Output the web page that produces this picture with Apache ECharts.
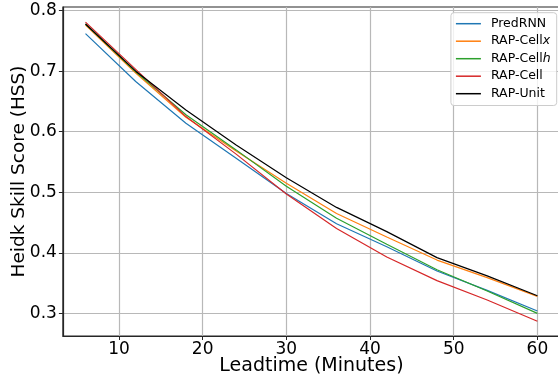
<!DOCTYPE html>
<html>
<head>
<meta charset="utf-8">
<script src="https://cdn.jsdelivr.net/npm/echarts@6/dist/echarts.min.js"></script>
<style>
html,body{margin:0;padding:0;background:#fff;}
#c{width:558px;height:384px;}
</style>
</head>
<body>
<div id="c"></div>
<script>
const leadtimes = [6, 12, 18, 24, 30, 36, 42, 48, 54, 60];
const predRNN  = [0.762, 0.683, 0.614, 0.556, 0.498, 0.448, 0.410, 0.370, 0.338, 0.304];
const rapCellX = [0.776, 0.697, 0.624, 0.568, 0.515, 0.465, 0.426, 0.388, 0.359, 0.328];
const rapCellH = [0.778, 0.699, 0.628, 0.570, 0.510, 0.457, 0.414, 0.372, 0.337, 0.300];
const rapCell  = [0.781, 0.703, 0.625, 0.563, 0.497, 0.440, 0.393, 0.354, 0.322, 0.287];
const rapUnit  = [0.778, 0.700, 0.636, 0.578, 0.524, 0.475, 0.435, 0.392, 0.362, 0.329];
const xTicks = [10, 20, 30, 40, 50, 60];
const yTicks = [0.3, 0.4, 0.5, 0.6, 0.7, 0.8];

const seriesDefs = [
  {name: 'PredRNN', data: predRNN, color: '#1f77b4'},
  {name: 'RAP-CellX', data: rapCellX, color: '#ff7f0e'},
  {name: 'RAP-CellH', data: rapCellH, color: '#2ca02c'},
  {name: 'RAP-Cell', data: rapCell, color: '#d62728'},
  {name: 'RAP-Unit', data: rapUnit, color: '#000000'}
];
const legendLabels = {
  'PredRNN': '{a|PredRNN}',
  'RAP-CellX': '{a|RAP-Cell}{i|x}',
  'RAP-CellH': '{a|RAP-Cell}{i|h}',
  'RAP-Cell': '{a|RAP-Cell}',
  'RAP-Unit': '{a|RAP-Unit}'
};
const FONT = 'DejaVu Sans';
const chart = echarts.init(document.getElementById('c'), null, {renderer: 'canvas'});
chart.setOption({
  animation: false,
  backgroundColor: '#fff',
  textStyle: {fontFamily: FONT},
  grid: {left: 62.9, right: -2, top: 7, bottom: 48, show: true, borderColor: '#262626', borderWidth: 1.2, containLabel: false, outerBoundsMode: 'none'},
  legend: {
    orient: 'vertical', right: 1.3, top: 12.7,
    icon: 'rect', itemWidth: 25, itemHeight: 1.5, itemGap: 4.5,
    padding: [4.5, 6, 5.3, 5],
    backgroundColor: 'rgba(255,255,255,0.8)', borderColor: '#cccccc', borderWidth: 1, borderRadius: 3,
    formatter: n => legendLabels[n],
    textStyle: {
      fontFamily: FONT, fontSize: 12.5, color: '#000', lineHeight: 12.75, padding: [0, 0, 0, 5],
      rich: {
        a: {fontFamily: FONT, fontSize: 12.5, color: '#000', lineHeight: 12.75},
        i: {fontFamily: FONT, fontSize: 12.5, color: '#000', fontStyle: 'italic', lineHeight: 12.75}
      }
    }
  },
  xAxis: {
    type: 'value', min: 3.3, max: 62.7, splitNumber: 6,
    name: 'Leadtime (Minutes)', nameLocation: 'middle', nameGap: 21, nameMoveOverlap: false,
    nameTextStyle: {fontFamily: FONT, fontSize: 19, color: '#000'},
    axisLine: {show: true, lineStyle: {color: '#262626', width: 1.2}},
    axisTick: {show: true, length: 4, customValues: xTicks, lineStyle: {color: '#262626', width: 1}},
    axisLabel: {customValues: xTicks, margin: 5, fontFamily: FONT, fontSize: 17, color: '#000'},
    splitLine: {show: true, lineStyle: {color: '#b8b8b8', width: 1.2}}
  },
  yAxis: {
    type: 'value', min: 0.2626, max: 0.806, splitNumber: 5,
    name: 'Heidk Skill Score (HSS)', nameLocation: 'middle', nameGap: 34, nameMoveOverlap: false,
    nameTextStyle: {fontFamily: FONT, fontSize: 18.5, color: '#000'},
    axisLine: {show: true, lineStyle: {color: '#262626', width: 1.2}},
    axisTick: {show: true, length: 4, customValues: yTicks, lineStyle: {color: '#262626', width: 1}},
    axisLabel: {customValues: yTicks, margin: 6, fontFamily: FONT, fontSize: 17, color: '#000', formatter: v => v.toFixed(1)},
    splitLine: {show: true, lineStyle: {color: '#b8b8b8', width: 1.2}}
  },
  series: seriesDefs.map(s => ({
    name: s.name, type: 'line', symbol: 'none', smooth: false,
    data: leadtimes.map((t, i) => [t, s.data[i]]),
    lineStyle: {color: s.color, width: 1.2},
    itemStyle: {color: s.color}
  }))
});
</script>
</body>
</html>
